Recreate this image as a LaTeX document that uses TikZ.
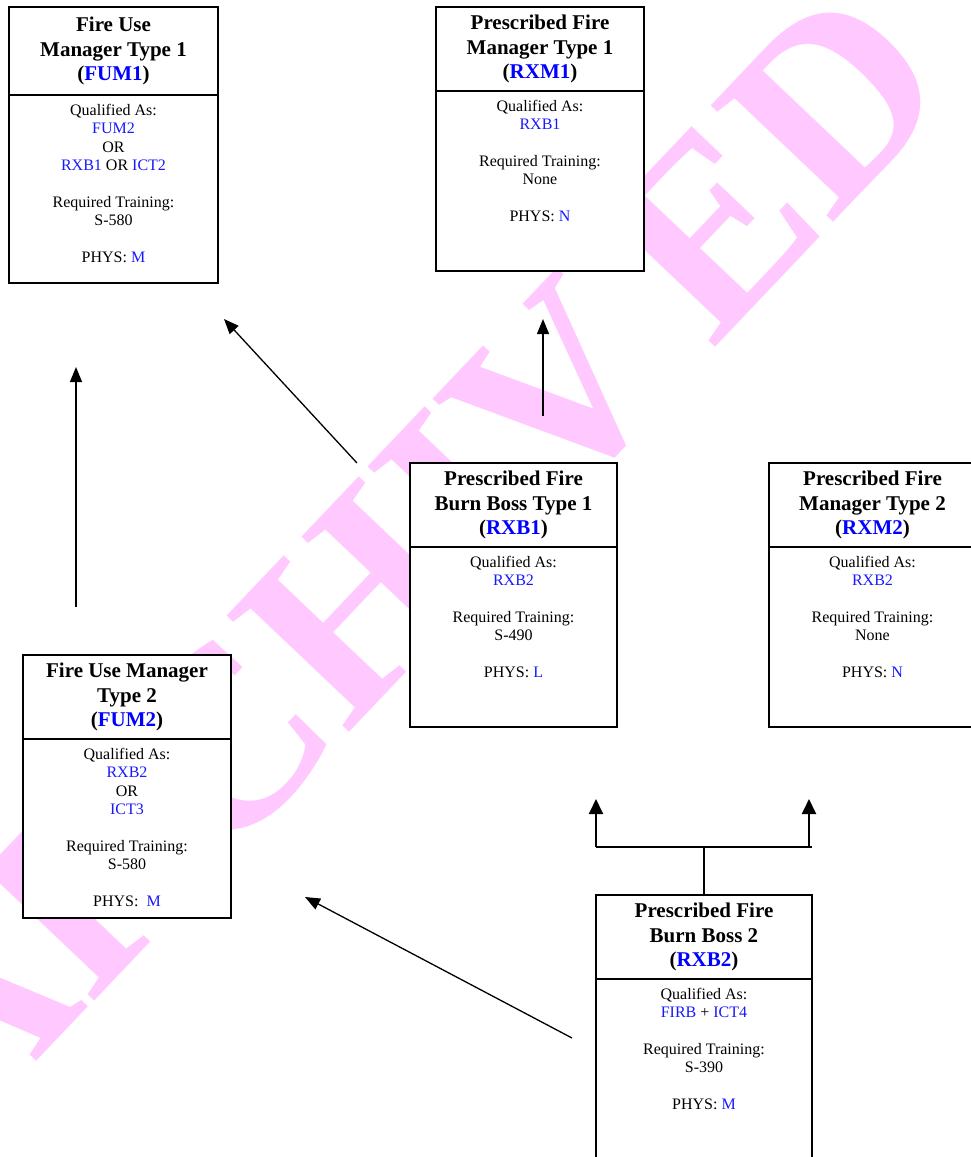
\documentclass[tikz,border=0pt]{standalone}
\usepackage{fontspec}
\setmainfont{Liberation Serif}
\usetikzlibrary{arrows.meta}
\definecolor{wmpink}{RGB}{255,200,255}
\definecolor{codeblue}{RGB}{0,0,255}
\definecolor{bodyblue}{RGB}{25,25,255}
\newcommand{\bluebody}[1]{\textcolor{bodyblue}{#1}}
\newcommand{\bluetitle}[1]{\textcolor{codeblue}{#1}}
\tikzset{
  titlebox/.style={draw, line width=2pt, fill=white, inner sep=0pt, outer sep=0pt, align=center,
    font=\fontsize{21}{24.5}\selectfont\bfseries},
  bodybox/.style={draw, line width=2pt, fill=white, inner sep=0pt, outer sep=0pt, anchor=north},
  bodytext/.style={inner sep=0pt, outer sep=0pt, align=center, anchor=north,
    font=\fontsize{16}{18.4}\selectfont},
  arrowline/.style={line width=1.3pt, -{Triangle[length=15pt,width=12pt]}},
  forkarrow/.style={line width=2pt, -{Triangle[length=15pt,width=14pt]}},
  forkline/.style={line width=2pt},
  wmtext/.style={text=wmpink, inner sep=0pt, font=\fontsize{258}{258}\selectfont\bfseries}
}
\begin{document}
\begin{tikzpicture}[x=1pt,y=-1pt]
\useasboundingbox (0,0) rectangle (970,1157);
% watermark
\node[wmtext, rotate=46.5] (wm) at (400,558) {ARCHIV\kern0.17em ED};

% FUM1
\node[titlebox, minimum width=209pt, minimum height=88pt] (fum1t) at (113.5,51)
  {Fire Use\\Manager Type 1\\(\bluetitle{FUM1})};
\node[bodybox, minimum width=209pt, minimum height=188pt] (fum1b) at (fum1t.south) {};
\node[bodytext] (fum1x) at (113.5,104)
  {Qualified As:\\\bluebody{FUM2}\\OR\\\bluebody{RXB1} OR \bluebody{ICT2}\\[18.4pt]Required Training:\\S-580\\[18.4pt]PHYS: \bluebody{M}};

% RXM1
\node[titlebox, minimum width=208pt, minimum height=84pt] (rxm1t) at (540,49)
  {Prescribed Fire\\Manager Type 1\\(\bluetitle{RXM1})};
\node[bodybox, minimum width=208pt, minimum height=180pt] (rxm1b) at (rxm1t.south) {};
\node[bodytext] (rxm1x) at (540,100)
  {Qualified As:\\\bluebody{RXB1}\\[18.4pt]Required Training:\\None\\[18.4pt]PHYS: \bluebody{N}};

% RXB1
\node[titlebox, minimum width=207pt, minimum height=84pt] (rxb1t) at (513.5,505)
  {Prescribed Fire\\Burn Boss Type 1\\(\bluetitle{RXB1})};
\node[bodybox, minimum width=207pt, minimum height=180pt] (rxb1b) at (rxb1t.south) {};
\node[bodytext] (rxb1x) at (513.5,556)
  {Qualified As:\\\bluebody{RXB2}\\[18.4pt]Required Training:\\S-490\\[18.4pt]PHYS: \bluebody{L}};

% RXM2
\node[titlebox, minimum width=207pt, minimum height=84pt] (rxm2t) at (872.5,505)
  {Prescribed Fire\\Manager Type 2\\(\bluetitle{RXM2})};
\node[bodybox, minimum width=207pt, minimum height=180pt] (rxm2b) at (rxm2t.south) {};
\node[bodytext] (rxm2x) at (872.5,556)
  {Qualified As:\\\bluebody{RXB2}\\[18.4pt]Required Training:\\None\\[18.4pt]PHYS: \bluebody{N}};

% FUM2
\node[titlebox, minimum width=208pt, minimum height=84pt] (fum2t) at (127,697)
  {Fire Use Manager\\Type 2\\(\bluetitle{FUM2})};
\node[bodybox, minimum width=208pt, minimum height=179pt] (fum2b) at (fum2t.south) {};
\node[bodytext] (fum2x) at (127,748)
  {Qualified As:\\\bluebody{RXB2}\\OR\\\bluebody{ICT3}\\[18.4pt]Required Training:\\S-580\\[18.4pt]PHYS:\ \ \bluebody{M}};

% RXB2
\node[titlebox, minimum width=216pt, minimum height=84pt] (rxb2t) at (704,937)
  {Prescribed Fire\\Burn Boss 2\\(\bluetitle{RXB2})};
\node[bodybox, minimum width=216pt, minimum height=210pt] (rxb2b) at (rxb2t.south) {};
\node[bodytext] (rxb2x) at (704,988)
  {Qualified As:\\\bluebody{FIRB} + \bluebody{ICT4}\\[18.4pt]Required Training:\\S-390\\[18.4pt]PHYS: \bluebody{M}};

% arrow end points
\coordinate (a1s) at (76,607);   \coordinate (a1e) at (76,367);
\coordinate (a2s) at (357,463);  \coordinate (a2e) at (224,319);
\coordinate (a3s) at (543,416);  \coordinate (a3e) at (543,319);
\coordinate (a4s) at (572,1038); \coordinate (a4e) at (305,897);
\coordinate (fkm) at (704,847);
\coordinate (fkl) at (596,847);  \coordinate (fkr) at (812,847);
\coordinate (fkra) at (809,847);
\coordinate (fklt) at (596,799); \coordinate (fkrt) at (809,799);

\draw[arrowline] (a1s) -- (a1e);
\draw[arrowline] (a2s) -- (a2e);
\draw[arrowline] (a3s) -- (a3e);
\draw[arrowline] (a4s) -- (a4e);
\draw[forkline] (rxb2t.north) -- (fkm);
\draw[forkline] (fkl) -- (fkr);
\draw[forkarrow] (fkl) -- (fklt);
\draw[forkarrow] (fkra) -- (fkrt);
\end{tikzpicture}
\end{document}
